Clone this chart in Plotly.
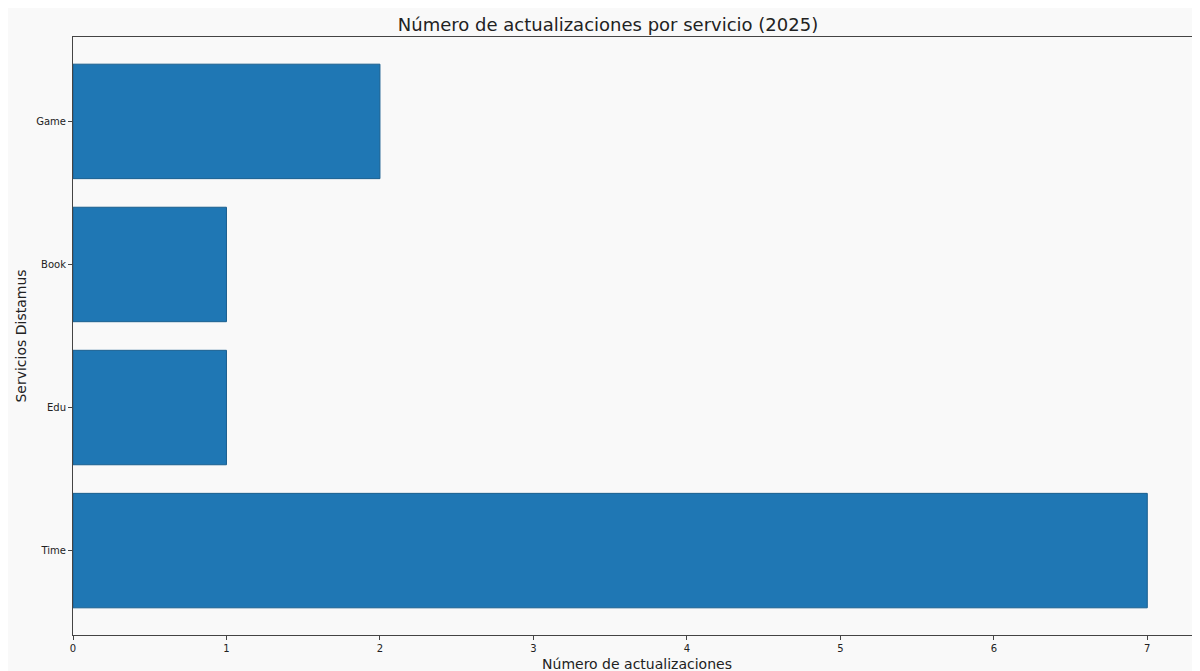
import plotly.graph_objects as go

servicios = ["Time", "Edu", "Book", "Game"]
actualizaciones = [7, 1, 1, 2]
xticks = [0, 1, 2, 3, 4, 5, 6, 7]

bg = "#f9f9f9"
fig = go.Figure(go.Bar(
    x=actualizaciones, y=list(range(len(servicios))), orientation="h", width=0.8,
    marker=dict(color="#1f77b4", line=dict(color="#1a5f8f", width=1)),
))
fig.update_layout(
    width=1200, height=671, paper_bgcolor=bg, plot_bgcolor=bg,
    margin=dict(l=65, r=7, t=29, b=44),
    font=dict(family="DejaVu Sans", color="#222"),
    title=dict(text="Número de actualizaciones por servicio (2025)", x=0.5, xanchor="center",
               y=0.985, yanchor="top", font=dict(size=18)),
    showlegend=False,
)
fig.update_xaxes(range=[0, 7.35], tickvals=xticks, ticks="outside", ticklen=4,
                 showgrid=False, zeroline=False, showline=True, linecolor="#444", mirror=True,
                 tickfont=dict(size=10),
                 title=dict(text="Número de actualizaciones", font=dict(size=14), standoff=6))
fig.update_yaxes(range=[-0.59, 3.59], tickvals=list(range(len(servicios))), ticktext=servicios,
                 ticks="outside", ticklen=4, showgrid=False, zeroline=False, showline=True,
                 linecolor="#444", mirror=True, tickfont=dict(size=10),
                 title=dict(text="Servicios Distamus", font=dict(size=14), standoff=6))
fig.write_html("out.html")
